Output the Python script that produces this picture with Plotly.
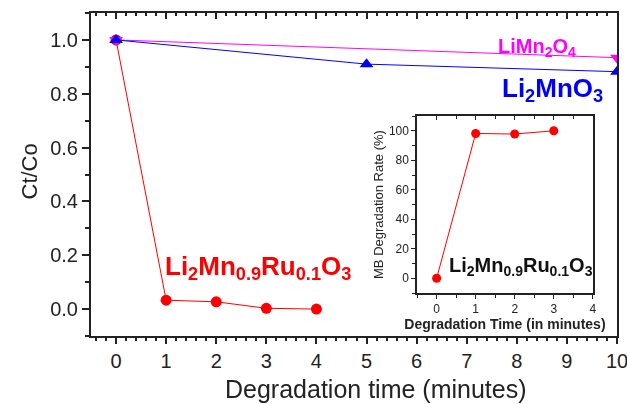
import plotly.graph_objects as go

# Main chart data
ru_x = [0, 1, 2, 3, 4]
ru_y = [1.0, 0.033, 0.027, 0.003, 0.0]
limn2o4_x = [0, 10]
limn2o4_y = [1.0, 0.934]
li2mno3_x = [0, 5, 10]
li2mno3_y = [1.0, 0.91, 0.882]

# Inset data
inset_x = [0, 1, 2, 3]
inset_y = [0, 98.2, 97.8, 100]

FONT = "Liberation Sans, Arial, sans-serif"
RED = "#ff0000"
MAG = "#ff00ff"
BLUE = "#0000ff"
AX = "#222"

fig = go.Figure()

fig.add_trace(go.Scatter(x=ru_x, y=ru_y, mode="lines+markers",
                         line=dict(color=RED, width=1),
                         marker=dict(symbol="circle", size=11, color=RED),
                         xaxis="x", yaxis="y", showlegend=False))
fig.add_trace(go.Scatter(x=limn2o4_x, y=limn2o4_y, mode="lines+markers",
                         line=dict(color=MAG, width=1),
                         marker=dict(symbol="triangle-down", size=12, color=MAG),
                         xaxis="x", yaxis="y", showlegend=False))
fig.add_trace(go.Scatter(x=li2mno3_x, y=li2mno3_y, mode="lines+markers",
                         line=dict(color=BLUE, width=1),
                         marker=dict(symbol="triangle-up", size=12, color=BLUE),
                         xaxis="x", yaxis="y", showlegend=False))

fig.add_trace(go.Scatter(x=inset_x, y=inset_y, mode="lines+markers",
                         line=dict(color=RED, width=1),
                         marker=dict(symbol="circle", size=9, color=RED),
                         xaxis="x2", yaxis="y2", showlegend=False))

# transparent helper traces so the top (inside) tick axes are drawn
fig.add_trace(go.Scatter(x=ru_x, y=ru_y, mode="markers", opacity=0, xaxis="x3", yaxis="y",
                         showlegend=False, hoverinfo="skip"))
fig.add_trace(go.Scatter(x=inset_x, y=inset_y, mode="markers", opacity=0, xaxis="x4", yaxis="y2",
                         showlegend=False, hoverinfo="skip"))

axis_common = dict(showline=True, linecolor=AX, mirror=True, showgrid=False,
                   zeroline=False, ticks="outside", tickcolor=AX, automargin=False)
top_common = dict(showline=False, showgrid=False, zeroline=False, ticks="inside",
                  tickcolor=AX, showticklabels=False, side="top", automargin=False)

fig.update_layout(
    width=627, height=404,
    margin=dict(l=91, r=10, t=13, b=68, autoexpand=False),
    paper_bgcolor="white", plot_bgcolor="white",
    font=dict(family=FONT, color=AX),
    xaxis=dict(range=[-0.5, 10], dtick=1, tick0=0, linewidth=2, ticklen=6, tickwidth=1.5,
               tickfont=dict(size=20), ticklabeloverflow="allow",
               minor=dict(dtick=0.2, ticklen=3, tickcolor=AX, ticks="outside"),
               **axis_common),
    xaxis3=dict(overlaying="x", anchor="y", range=[-0.5, 10], dtick=1, tick0=0,
                ticklen=6, tickwidth=1.5,
                minor=dict(dtick=0.2, ticklen=3, tickcolor=AX, ticks="inside"),
                **top_common),
    yaxis=dict(range=[-0.1, 1.1], dtick=0.2, tick0=0, tickformat=".1f", linewidth=2,
               ticklen=7, tickwidth=1.5, tickfont=dict(size=20),
               minor=dict(dtick=0.1, ticklen=4, tickcolor=AX, ticks="outside"),
               **axis_common),
    xaxis2=dict(domain=[0.620, 0.954], anchor="y2", range=[-0.5, 4], dtick=1, tick0=0,
                linewidth=1.5, ticklen=4, tickwidth=1, tickfont=dict(size=12),
                minor=dict(dtick=0.5, ticklen=3, tickcolor=AX, ticks="outside"),
                title=dict(text="<b>Degradation Time (in minutes)</b>", font=dict(size=14), standoff=0),
                **axis_common),
    xaxis4=dict(overlaying="x2", anchor="y2", range=[-0.5, 4], dtick=1, tick0=0,
                ticklen=4, tickwidth=1,
                minor=dict(dtick=0.5, ticklen=3, tickcolor=AX, ticks="inside"),
                **top_common),
    yaxis2=dict(domain=[0.133, 0.681], anchor="x2", range=[-10, 110], dtick=20, tick0=0,
                linewidth=1.5, ticklen=4, tickwidth=1, tickfont=dict(size=12),
                minor=dict(dtick=10, ticklen=3, tickcolor=AX, ticks="outside"),
                title=dict(text="MB Degradation Rate (%)", font=dict(size=13), standoff=2),
                **axis_common),
)

annotations = [
    dict(text="Degradation time (minutes)", x=(376 - 91) / 526, xref="paper",
         y=-(389 - 336) / 323, yref="paper", yanchor="middle", font=dict(size=25), showarrow=False),
    dict(text="Ct/Co", x=-0.145, xref="paper", y=0.51, yref="paper",
         textangle=-90, font=dict(size=22), showarrow=False),
    dict(text="<b>LiMn<sub>2</sub>O<sub>4</sub></b>", x=8.4, y=0.97, xref="x", yref="y",
         font=dict(size=20, color=MAG), showarrow=False),
    dict(text="<b>Li<sub>2</sub>MnO<sub>3</sub></b>", x=8.72, y=0.815, xref="x", yref="y",
         font=dict(size=26, color=BLUE), showarrow=False),
    dict(text="<b>Li<sub>2</sub>Mn<sub>0.9</sub>Ru<sub>0.1</sub>O<sub>3</sub></b>", x=2.84, y=0.155,
         xref="x", yref="y", font=dict(size=26, color=RED), showarrow=False),
    dict(text="<b>Li<sub>2</sub>Mn<sub>0.9</sub>Ru<sub>0.1</sub>O<sub>3</sub></b>", x=2.15, y=8,
         xref="x2", yref="y2", font=dict(size=20, color="#111"), showarrow=False),
]
fig.update_layout(annotations=annotations)

fig.write_html("out.html",
               config={"responsive": False, "displayModeBar": False},
               post_script="document.body.style.margin='0';document.body.style.overflow='hidden';")
